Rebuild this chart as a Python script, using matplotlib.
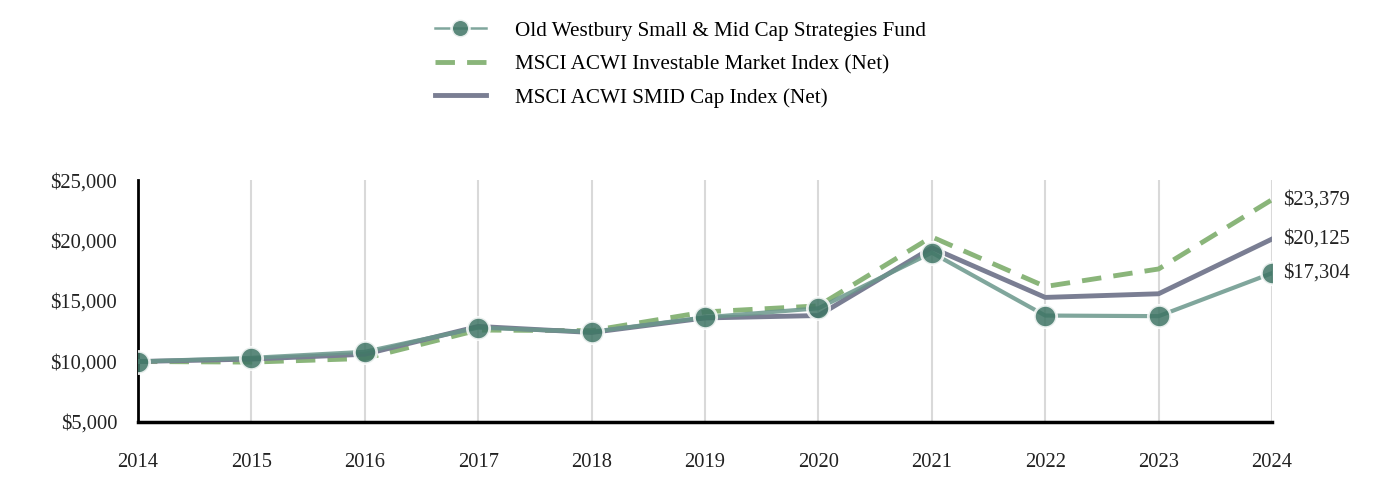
import matplotlib.pyplot as plt
from matplotlib.ticker import FuncFormatter

plt.rcParams['font.family'] = ['Liberation Serif', 'DejaVu Serif']

# Data:
years = [2014, 2015, 2016, 2017, 2018, 2019, 2020, 2021, 2022, 2023, 2024]
fund = [10000, 10300, 10800, 12800, 12450, 13650, 14400, 19000, 13800, 13750, 17304]
acwi_imi = [10000, 9950, 10250, 12600, 12550, 14100, 14600, 20300, 16200, 17650, 23379]
acwi_smid = [10000, 10200, 10600, 12900, 12400, 13600, 13800, 19400, 15300, 15600, 20125]

fund_name = 'Old Westbury Small & Mid Cap Strategies Fund'
imi_name = 'MSCI ACWI Investable Market Index (Net)'
smid_name = 'MSCI ACWI SMID Cap Index (Net)'

fund_color = '#6a978b'
imi_color = '#8ab57a'
smid_color = '#7a7e93'

fig = plt.figure(figsize=(13.92, 4.92), dpi=100)
ax = fig.add_axes([0.0991, 0.1423, 0.8147, 0.4917])

ax.plot(years, acwi_imi, color=imi_color, lw=3.5, dashes=(4, 2.5), label=imi_name, zorder=3)
ax.plot(years, acwi_smid, color=smid_color, lw=3.5, label=smid_name, zorder=3)
ax.plot(years, fund, color=fund_color, lw=3, marker='o', markersize=16,
        markerfacecolor='#3f7565', markeredgecolor='white', markeredgewidth=2,
        alpha=0.85, label=fund_name, zorder=4)

ax.set_xlim(2014, 2024)
ax.set_ylim(5000, 25000)
ax.set_xticks(years)
ax.set_yticks([5000, 10000, 15000, 20000, 25000])
ax.yaxis.set_major_formatter(FuncFormatter(lambda v, p: '${:,.0f}'.format(v)))
ax.tick_params(axis='both', length=0, labelsize=14.8, colors='#222222')
ax.tick_params(axis='x', pad=22)
ax.tick_params(axis='y', pad=15)
ax.grid(axis='x', color='#d9d9d9', lw=1.5)
ax.set_axisbelow(True)
for s in ['top', 'right']:
    ax.spines[s].set_visible(False)
ax.spines['left'].set_linewidth(2)
ax.spines['bottom'].set_linewidth(2.5)

# end labels
for vals in [acwi_imi, acwi_smid, fund]:
    ax.annotate('${:,.0f}'.format(vals[-1]), (years[-1], vals[-1]), xytext=(8, 0),
                textcoords='offset points', va='center', ha='left', fontsize=14.8,
                color='#222222', annotation_clip=False)

handles, labels = ax.get_legend_handles_labels()
order = [2, 0, 1]
leg = fig.legend([handles[i] for i in order], [labels[i] for i in order],
                 loc='upper center', bbox_to_anchor=(0.489, 0.996), frameon=False,
                 fontsize=15.2, handlelength=2.4, labelspacing=0.65, handletextpad=1.4,
                 markerscale=0.8)
leg.legend_handles[0].set_linewidth(1.8)

fig.savefig('out.png', dpi=100)
